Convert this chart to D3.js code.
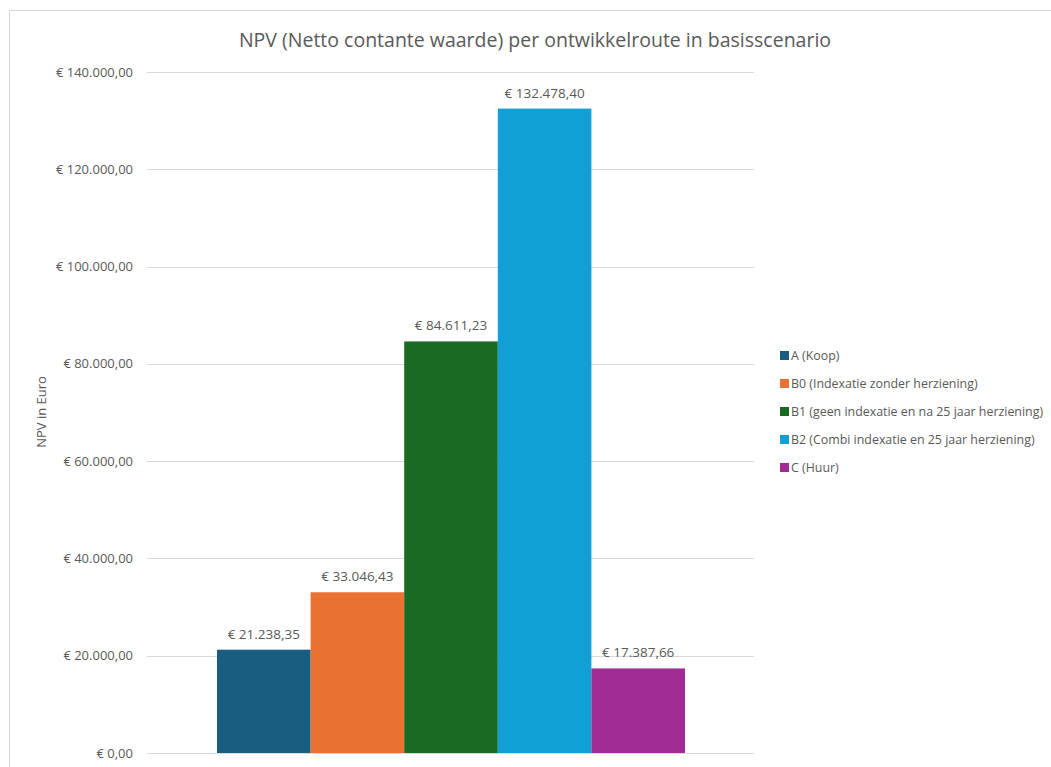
<!DOCTYPE html>
<html lang="nl">
  <head>
    <meta charset="UTF-8" />
    <title>NPV per ontwikkelroute</title>
    <style>
      body {
        margin: 0;
        background: #fff;
        font-family: "Open Sans", "Liberation Sans", sans-serif;
      }
      svg text {
        fill: #595959;
      }
    </style>
  </head>
  <body>
    <svg id="chart" width="1051" height="767"></svg>
  </body>
  <script src="https://cdn.jsdelivr.net/npm/d3@7"></script>
  <script>
    const routes = [
      "A (Koop)",
      "B0 (Indexatie zonder herziening)",
      "B1 (geen indexatie en na 25 jaar herziening)",
      "B2 (Combi indexatie en 25 jaar herziening)",
      "C (Huur)",
    ];
    const npvValues = [21238.35, 33046.43, 84611.23, 132478.4, 17387.66];
    const colors = ["#175e80", "#e97132", "#1b6a24", "#119fd6", "#a02b93"];
    const yTicks = [0, 20000, 40000, 60000, 80000, 100000, 120000, 140000];

    const svg = d3.select("#chart");

    // chart frame, clipped at right/bottom like the screenshot
    svg
      .append("rect")
      .attr("x", 9.5)
      .attr("y", 10.5)
      .attr("width", 1100)
      .attr("height", 800)
      .attr("fill", "#fff")
      .attr("stroke", "#d9d9d9");

    const plotLeft = 147,
      plotRight = 754,
      plotTop = 72,
      plotBottom = 753;

    const euro = d3.formatLocale({
      decimal: ",",
      thousands: ".",
      grouping: [3],
      currency: ["€ ", ""],
    });
    const fmt = euro.format("$,.2f");

    const y = d3.scaleLinear().domain([0, 140000]).range([plotBottom, plotTop]);
    const x = d3
      .scaleBand()
      .domain(routes)
      .range([217, 685])
      .paddingInner(0);

    // gridlines
    svg
      .append("g")
      .selectAll("line")
      .data(yTicks)
      .join("line")
      .attr("x1", plotLeft)
      .attr("x2", plotRight)
      .attr("y1", (d) => Math.round(y(d)) + 0.5)
      .attr("y2", (d) => Math.round(y(d)) + 0.5)
      .attr("stroke", "#d9d9d9")
      .attr("stroke-width", 1);

    // y labels
    svg
      .append("g")
      .selectAll("text")
      .data(yTicks)
      .join("text")
      .attr("x", 133)
      .attr("y", (d) => y(d) + 4.5)
      .attr("text-anchor", "end")
      .attr("font-size", 13)
      .text((d) => (d === 0 ? "€ 0,00" : fmt(d)));

    // bars
    svg
      .append("g")
      .selectAll("rect")
      .data(routes)
      .join("rect")
      .attr("x", (d) => x(d))
      .attr("width", x.bandwidth())
      .attr("y", (d, i) => y(npvValues[i]))
      .attr("height", (d, i) => plotBottom - y(npvValues[i]))
      .attr("fill", (d, i) => colors[i]);

    // data labels
    svg
      .append("g")
      .selectAll("text")
      .data(routes)
      .join("text")
      .attr("x", (d) => x(d) + x.bandwidth() / 2)
      .attr("y", (d, i) => y(npvValues[i]) - 11)
      .attr("text-anchor", "middle")
      .attr("font-size", 13.5)
      .text((d, i) => fmt(npvValues[i]));

    // title
    svg
      .append("text")
      .attr("x", 535)
      .attr("y", 47)
      .attr("text-anchor", "middle")
      .attr("font-size", 19.5)
      .text("NPV (Netto contante waarde) per ontwikkelroute in basisscenario");

    // y axis title
    svg
      .append("text")
      .attr("transform", "translate(46,412) rotate(-90)")
      .attr("text-anchor", "middle")
      .attr("font-size", 13)
      .text("NPV in Euro");

    // legend
    const legend = svg
      .append("g")
      .selectAll("g")
      .data(routes)
      .join("g")
      .attr("transform", (d, i) => `translate(780,${355 + i * 28})`);
    legend
      .append("rect")
      .attr("x", 0)
      .attr("y", -4)
      .attr("width", 9)
      .attr("height", 9)
      .attr("fill", (d, i) => colors[i]);
    legend
      .append("text")
      .attr("x", 11)
      .attr("y", 4.5)
      .attr("font-size", 12.4)
      .text((d) => d);
  </script>
</html>
